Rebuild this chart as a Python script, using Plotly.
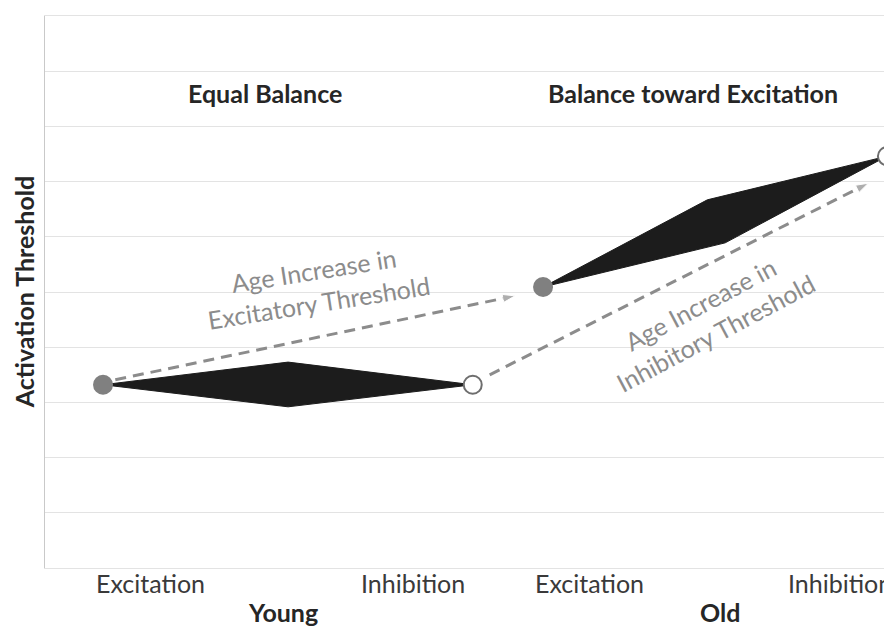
import plotly.graph_objects as go

# Positions on a 0-10 horizontal scale, thresholds on a 0-10 vertical scale
point_x = [0.685, 5.05, 5.88, 9.94]
point_y = [3.32, 3.32, 5.09, 7.46]
point_filled = [True, False, True, False]

young_shape_x = [0.685, 2.87, 5.05, 2.87, 0.685]
young_shape_y = [3.32, 3.73, 3.32, 2.92, 3.32]
old_shape_x = [5.88, 7.82, 9.94, 8.03, 5.88]
old_shape_y = [5.09, 6.67, 7.46, 5.89, 5.09]

exc_arrow_x = [0.83, 5.55]
exc_arrow_y = [3.41, 4.93]
inh_arrow_x = [5.25, 9.72]
inh_arrow_y = [3.50, 6.97]

tick_pos = [1.24, 4.34, 6.43, 9.39]
tick_text = ["Excitation", "Inhibition", "Excitation", "Inhibition"]
group_pos = [2.81, 7.97]
group_text = ["Young", "Old"]

FONT = "Lato"
GRAY = "#8c8c8c"
DARK = "#262626"

fig = go.Figure()

for sx, sy in [(young_shape_x, young_shape_y), (old_shape_x, old_shape_y)]:
    fig.add_trace(go.Scatter(
        x=sx, y=sy, mode="lines", fill="toself",
        fillcolor="#1c1c1c", line=dict(color="#1c1c1c", width=1),
        hoverinfo="skip", showlegend=False,
    ))

for ax_, ay_ in [(exc_arrow_x, exc_arrow_y), (inh_arrow_x, inh_arrow_y)]:
    fig.add_trace(go.Scatter(
        x=ax_, y=ay_, mode="lines+markers",
        line=dict(color=GRAY, width=3, dash="11px,7px"),
        marker=dict(symbol=["circle", "arrow"], size=[0, 13], color=GRAY,
                    angleref="previous"),
        hoverinfo="skip", showlegend=False, cliponaxis=False,
    ))

fig.add_trace(go.Scatter(
    x=point_x, y=point_y, mode="markers",
    marker=dict(
        size=18,
        color=["#808080" if f else "white" for f in point_filled],
        line=dict(color=["#808080" if f else "#6e6e6e" for f in point_filled], width=2),
    ),
    showlegend=False, cliponaxis=False,
))

annotations = [
    dict(x=2.6, y=8.6, text="<b>Equal Balance</b>"),
    dict(x=7.65, y=8.6, text="<b>Balance toward Excitation</b>"),
    dict(x=3.2, y=5.1, text="Age Increase in<br>Excitatory Threshold",
         textangle=-9, font=dict(family=FONT, size=25, color=GRAY)),
    dict(x=7.83, y=4.52, text="Age Increase in<br>Inhibitory Threshold",
         textangle=-28, font=dict(family=FONT, size=25, color=GRAY)),
]
for a in annotations:
    a.setdefault("font", dict(family=FONT, size=25, color=DARK))
    fig.add_annotation(xref="x", yref="y", showarrow=False, **a)

# category labels under the axis
for tx, tt in zip(tick_pos, tick_text):
    fig.add_annotation(x=tx, y=-0.027, xref="x", yref="paper", yanchor="middle",
                       text=tt, showarrow=False,
                       font=dict(family=FONT, size=25, color="#3a3a3a"))

for gx, gt in zip(group_pos, group_text):
    fig.add_annotation(x=gx, y=-0.08, xref="x", yref="paper", yanchor="middle",
                       text=f"<b>{gt}</b>", showarrow=False,
                       font=dict(family=FONT, size=25, color=DARK))

fig.add_annotation(x=-0.0245, y=0.5, xref="paper", yref="paper", textangle=-90,
                   xanchor="center", yanchor="middle",
                   text="<b>Activation Threshold</b>", showarrow=False,
                   font=dict(family=FONT, size=25, color=DARK))

fig.update_layout(
    width=892, height=628,
    margin=dict(l=37, r=8, t=8, b=68),
    plot_bgcolor="white", paper_bgcolor="white",
    font=dict(family=FONT, size=25, color="#3a3a3a"),
)
fig.update_xaxes(
    range=[0, 10], showticklabels=False,
    showgrid=False, zeroline=False, showline=True, mirror=True,
    linecolor="#e3e3e3", ticks="",
)
fig.update_yaxes(
    range=[0, 10], dtick=1, showticklabels=False,
    showgrid=True, gridcolor="#e3e3e3", zeroline=False,
    showline=True, linecolor="#c9c9c9",
)

fig.write_html("out.html")
